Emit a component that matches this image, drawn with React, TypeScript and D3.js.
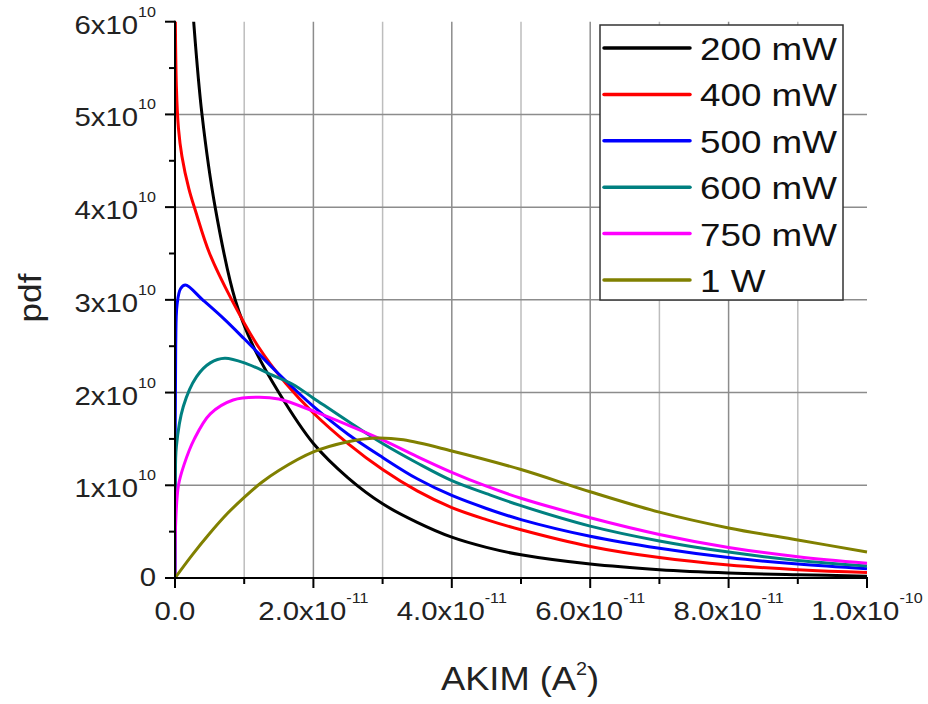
import React from "react";
import * as d3 from "d3";

// x in units of 1e-11 A^2, y (pdf) in units of 1e10
const pdf200mW: [number, number][] = [
  [0.2, 6.8], [0.27, 6.0], [0.39, 5.0], [0.58, 4.0], [0.87, 3.0], [1.13, 2.5], [1.5, 2.0],
  [2.0, 1.45], [2.5, 1.08], [3.0, 0.8], [3.5, 0.6], [4.0, 0.44], [4.5, 0.33], [5.0, 0.25],
  [6.0, 0.15], [7.0, 0.09], [8.0, 0.055], [9.0, 0.035], [10.0, 0.02],
];
const pdf400mW: [number, number][] = [
  [0.0, 6.5], [0.02, 5.3], [0.05, 4.85], [0.1, 4.55], [0.2, 4.2], [0.3, 3.95], [0.5, 3.5],
  [0.82, 3.0], [1.2, 2.5], [1.6, 2.1], [2.0, 1.78], [2.5, 1.45], [3.0, 1.17], [3.5, 0.94],
  [4.0, 0.76], [4.5, 0.63], [5.0, 0.52], [6.0, 0.34], [7.0, 0.22], [8.0, 0.14], [9.0, 0.09], [10.0, 0.06],
];
const pdf500mW: [number, number][] = [
  [0.0, 0.0], [0.01, 2.5], [0.03, 2.95], [0.08, 3.12], [0.15, 3.16], [0.4, 3.0], [0.7, 2.8],
  [1.0, 2.58], [1.5, 2.2], [2.0, 1.85], [2.5, 1.55], [3.0, 1.3], [3.5, 1.07], [4.0, 0.89],
  [4.5, 0.75], [5.0, 0.63], [6.0, 0.45], [7.0, 0.32], [8.0, 0.22], [9.0, 0.15], [10.0, 0.1],
];
const pdf600mW: [number, number][] = [
  [0.0, 0.0], [0.005, 1.0], [0.02, 1.42], [0.12, 1.85], [0.31, 2.17], [0.51, 2.32], [0.72, 2.37],
  [1.04, 2.31], [1.37, 2.2], [1.7, 2.09], [2.0, 1.94], [2.5, 1.69], [3.0, 1.45], [3.5, 1.24],
  [4.0, 1.05], [4.5, 0.91], [5.0, 0.78], [6.0, 0.56], [7.0, 0.4], [8.0, 0.28], [9.0, 0.19], [10.0, 0.13],
];
const pdf750mW: [number, number][] = [
  [0.0, 0.0], [0.01, 0.6], [0.05, 1.0], [0.13, 1.22], [0.28, 1.5], [0.51, 1.77], [0.84, 1.92],
  [1.2, 1.95], [1.5, 1.93], [2.0, 1.8], [2.5, 1.65], [3.0, 1.49], [3.5, 1.31], [4.0, 1.14],
  [4.5, 0.99], [5.0, 0.86], [6.0, 0.65], [7.0, 0.47], [8.0, 0.33], [9.0, 0.23], [10.0, 0.16],
];
const pdf1W: [number, number][] = [
  [0.0, 0.0], [0.25, 0.25], [0.5, 0.48], [0.75, 0.69], [1.0, 0.87], [1.25, 1.03], [1.5, 1.16],
  [2.0, 1.36], [2.5, 1.47], [2.9, 1.51], [3.3, 1.49], [4.0, 1.37], [5.0, 1.17], [6.0, 0.93],
  [7.0, 0.71], [8.0, 0.54], [9.0, 0.41], [10.0, 0.28],
];

const seriesNames = ["200 mW", "400 mW", "500 mW", "600 mW", "750 mW", "1 W"];
const seriesColors = ["#000000", "#ff0000", "#0000ff", "#008080", "#ff00ff", "#808000"];
const seriesData = [pdf200mW, pdf400mW, pdf500mW, pdf600mW, pdf750mW, pdf1W];

const xTickValues = [0, 2, 4, 6, 8, 10];
const xTickBases = ["0.0", "2.0x10", "4.0x10", "6.0x10", "8.0x10", "1.0x10"];
const xTickExps = ["", "-11", "-11", "-11", "-11", "-10"];
const yTickValues = [0, 1, 2, 3, 4, 5, 6];
const yTickBases = ["0", "1x10", "2x10", "3x10", "4x10", "5x10", "6x10"];
const yTickExps = ["", "10", "10", "10", "10", "10", "10"];

const W = 928;
const H = 704;
const L = 175, R = 867, T = 21.7, B = 578;
const SX = 1.15;
const FONT = "'Liberation Sans', Arial, sans-serif";

export default function App() {
  const x = d3.scaleLinear().domain([0, 10]).range([L, R]);
  const y = d3.scaleLinear().domain([0, 6]).range([B, T]);
  const line = d3
    .line<[number, number]>()
    .x((d) => x(d[0]))
    .y((d) => y(d[1]))
    .curve(d3.curveCatmullRom.alpha(0.5));

  const xMinor = d3.range(0, 10.001, 1);
  const yMinor = d3.range(0, 6.001, 0.5);
  const vGrid = d3.range(1, 10, 1);
  const hGrid = [1, 2, 3, 4, 5];

  const legX = 600, legY = 25, legW = 243, legH = 275;
  const legStep = 46.4;

  return (
    <svg width={W} height={H} style={{ position: "absolute", left: 0, top: 0, background: "#fff" }}>
      <defs>
        <clipPath id="plotclip">
          <rect x={L} y={T} width={R - L + 2} height={B - T} />
        </clipPath>
      </defs>
      <rect x={0} y={0} width={W} height={H} fill="#fff" />
      {vGrid.map((v) => (
        <line key={"vg" + v} x1={x(v)} x2={x(v)} y1={T} y2={B} stroke={v % 2 === 0 ? "#8c8c8c" : "#bdbdbd"} strokeWidth={1.5} />
      ))}
      {hGrid.map((v) => (
        <line key={"hg" + v} x1={L} x2={R} y1={y(v)} y2={y(v)} stroke="#8c8c8c" strokeWidth={1.5} />
      ))}
      <g clipPath="url(#plotclip)">
        {seriesData.map((d, i) => (
          <path key={"s" + i} d={line(d) || ""} fill="none" stroke={seriesColors[i]} strokeWidth={3} strokeLinejoin="round" />
        ))}
      </g>
      <line x1={L} x2={L} y1={T - 1} y2={B + 1} stroke="#000" strokeWidth={2} />
      <line x1={L - 1} x2={R + 1} y1={B} y2={B} stroke="#000" strokeWidth={2} />
      {yMinor.map((v) => (
        <line key={"yt" + v} x1={L - (v % 1 === 0 ? 10 : 6)} x2={L} y1={y(v)} y2={y(v)} stroke="#000" strokeWidth={2} />
      ))}
      {xMinor.map((v) => (
        <line key={"xt" + v} x1={x(v)} x2={x(v)} y1={B} y2={B + (v % 2 === 0 ? 10 : 6)} stroke="#000" strokeWidth={2} />
      ))}
      {yTickValues.map((v, i) => (
        <g key={"yl" + v} transform={`translate(156,${y(v) + (yTickExps[i] ? 12 : 8)}) scale(${SX},1)`}>
          <text x={0} y={0} textAnchor="end" fontFamily={FONT} fontSize={25.5} fill="#222">
            {yTickBases[i]}
            {yTickExps[i] ? (
              <tspan dy={-17} fontSize={14}>{yTickExps[i]}</tspan>
            ) : null}
          </text>
        </g>
      ))}
      {xTickValues.map((v, i) => (
        <g key={"xl" + v} transform={`translate(${x(v)},620) scale(${SX},1)`}>
          <text x={0} y={0} textAnchor="middle" fontFamily={FONT} fontSize={25.5} fill="#222">
            {xTickBases[i]}
            {xTickExps[i] ? (
              <tspan dy={-17} fontSize={14}>{xTickExps[i]}</tspan>
            ) : null}
          </text>
        </g>
      ))}
      <g transform={`translate(520,690) scale(1.1,1)`}>
        <text x={0} y={0} textAnchor="middle" fontFamily={FONT} fontSize={33} fill="#222">
          AKIM (A<tspan dy={-15} fontSize={18}>2</tspan>
          <tspan dy={15}>)</tspan>
        </text>
      </g>
      <g transform={`translate(41,298) rotate(-90) scale(1.1,1)`}>
        <text x={0} y={0} textAnchor="middle" fontFamily={FONT} fontSize={32} fill="#222">
          pdf
        </text>
      </g>
      <rect x={legX} y={legY} width={legW} height={legH} fill="#fff" stroke="#333" strokeWidth={1.5} />
      {seriesNames.map((n, i) => {
        const cy = 48 + i * legStep;
        return (
          <g key={"lg" + i}>
            <line x1={604} x2={690} y1={cy} y2={cy} stroke={seriesColors[i]} strokeWidth={3.5} strokeLinecap="round" />
            <g transform={`translate(700,${cy + 12}) scale(${SX},1)`}>
              <text x={0} y={0} fontFamily={FONT} fontSize={32} fill="#111">
                {n}
              </text>
            </g>
          </g>
        );
      })}
    </svg>
  );
}
